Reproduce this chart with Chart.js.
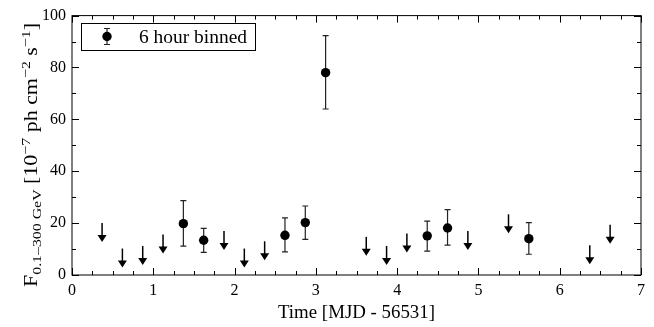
<!DOCTYPE html>
<html>
<head>
<meta charset="UTF-8">
<style>
  body { margin: 0; background: #fff; }
  canvas { display: block; }
</style>
</head>
<body>
<canvas id="myChart" width="654" height="327"></canvas>
<script src="https://cdn.jsdelivr.net/npm/chart.js"></script>
<script>
// detections (6 hour bins)
var det_time = [1.37, 1.62, 2.62, 2.87, 3.12, 4.37, 4.62, 5.62];
var det_flux = [19.8, 13.4, 15.3, 20.2, 78.0, 15.1, 18.1, 14.0];
var det_low  = [11.1, 8.7, 8.9, 13.7, 64.0, 9.2, 11.5, 8.0];
var det_high = [28.7, 18.0, 22.0, 26.6, 92.3, 20.8, 25.2, 20.2];

// upper limits
var ul_time = [0.37, 0.62, 0.87, 1.12, 1.87, 2.12, 2.37, 3.62, 3.87, 4.12, 4.87, 5.37, 6.37, 6.62];
var ul_flux = [20.0, 10.2, 11.2, 15.6, 17.0, 10.2, 13.0, 14.7, 11.2, 16.0, 17.0, 23.4, 11.5, 19.4];

var x_ticks = [0, 1, 2, 3, 4, 5, 6, 7];
var y_ticks = [0, 20, 40, 60, 80, 100];
var legend_label = "6 hour binned";
var x_title = "Time [MJD - 56531]";
// y title pieces: [text, kind]
var y_title = [["F", "n"], ["0.1\u2013300 GeV", "sub"], [" [10", "n"], ["\u22127", "sup"],
               [" ph cm", "n"], ["\u22122", "sup"], [" s", "n"], ["\u22121", "sup"], ["]", "n"]];

var FONT = "'Liberation Serif', 'DejaVu Serif', serif";

function pts(xs, ys) {
  var out = [];
  for (var i = 0; i < xs.length; i++) out.push({x: xs[i], y: ys[i]});
  return out;
}

function errorbar(ctx, x, y1, y2, cap) {
  ctx.beginPath();
  ctx.moveTo(x, y1); ctx.lineTo(x, y2);
  ctx.moveTo(x - cap, y1); ctx.lineTo(x + cap, y1);
  ctx.moveTo(x - cap, y2); ctx.lineTo(x + cap, y2);
  ctx.stroke();
}

// computer modern is wider than times, so stretch text to the wanted width
function stretchText(ctx, text, x, y, size, width) {
  ctx.save();
  ctx.font = size + "px " + FONT;
  var w = ctx.measureText(text).width;
  ctx.translate(x, y);
  ctx.scale(width / w, 1);
  ctx.textAlign = "left";
  ctx.fillText(text, 0, 0);
  ctx.restore();
}

var extras = {
  id: "extras",
  beforeDatasetsDraw: function(chart) {
    var ctx = chart.ctx, xs = chart.scales.x, ys = chart.scales.y;
    ctx.save();
    ctx.strokeStyle = "#222";
    ctx.lineWidth = 1.2;
    for (var i = 0; i < det_time.length; i++) {
      var px = xs.getPixelForValue(det_time[i]);
      errorbar(ctx, px, ys.getPixelForValue(det_high[i]), ys.getPixelForValue(det_low[i]), 3);
    }
    // upper limit arrows
    ctx.fillStyle = "#000";
    ctx.strokeStyle = "#000";
    ctx.lineWidth = 1.5;
    for (var j = 0; j < ul_time.length; j++) {
      var ax = xs.getPixelForValue(ul_time[j]);
      var ay = ys.getPixelForValue(ul_flux[j]);
      ctx.beginPath();
      ctx.moveTo(ax, ay); ctx.lineTo(ax, ay + 13);
      ctx.stroke();
      ctx.beginPath();
      ctx.moveTo(ax - 4.5, ay + 12);
      ctx.lineTo(ax + 4.5, ay + 12);
      ctx.lineTo(ax, ay + 19);
      ctx.closePath();
      ctx.fill();
    }
    ctx.restore();
  },
  afterDraw: function(chart) {
    var ctx = chart.ctx, a = chart.chartArea, xs = chart.scales.x, ys = chart.scales.y;
    ctx.save();
    ctx.strokeStyle = "#000";
    ctx.lineWidth = 1;
    ctx.strokeRect(a.left, a.top, a.right - a.left, a.bottom - a.top);
    ctx.beginPath();
    // x ticks, inward, bottom and top
    for (var v = 0; v <= 7.001; v += 0.25) {
      var px = Math.round(xs.getPixelForValue(v)) + 0.5;
      var len = (Math.abs(v - Math.round(v)) < 0.01) ? 7 : 4;
      ctx.moveTo(px, a.bottom); ctx.lineTo(px, a.bottom - len);
      ctx.moveTo(px, a.top); ctx.lineTo(px, a.top + len);
    }
    for (var w = 0; w <= 100; w += 10) {
      var py = Math.round(ys.getPixelForValue(w)) + 0.5;
      var l2 = (w % 20 === 0) ? 7 : 4;
      ctx.moveTo(a.left, py); ctx.lineTo(a.left + l2, py);
      ctx.moveTo(a.right, py); ctx.lineTo(a.right - l2, py);
    }
    ctx.stroke();

    // legend
    ctx.strokeRect(81.5, 23.5, 174, 27);
    ctx.strokeStyle = "#222";
    ctx.lineWidth = 1.2;
    errorbar(ctx, 107, 28.5, 44.5, 3);
    ctx.fillStyle = "#000";
    ctx.beginPath();
    ctx.arc(107, 36.5, 4.7, 0, Math.PI * 2);
    ctx.fill();
    ctx.textBaseline = "alphabetic";
    stretchText(ctx, legend_label, 139, 42.5, 18, 108);

    // x axis title
    ctx.font = "18px " + FONT;
    var tw = 157;
    stretchText(ctx, x_title, (a.left + a.right) / 2 - tw / 2, 318, 18, tw);

    // y axis title with sub/superscripts
    ctx.translate(37, 155);
    ctx.rotate(-Math.PI / 2);
    var total = 0, k, f;
    function fontOf(kind) { return (kind === "n" ? "18px " : "13px ") + FONT; }
    for (k = 0; k < y_title.length; k++) {
      ctx.font = fontOf(y_title[k][1]);
      total += ctx.measureText(y_title[k][0]).width;
    }
    var target = 264;
    ctx.scale(target / total, 1);
    var cx = -total / 2;
    for (k = 0; k < y_title.length; k++) {
      f = y_title[k];
      ctx.font = fontOf(f[1]);
      var dy = f[1] === "sub" ? 4 : (f[1] === "sup" ? -7.5 : 0);
      ctx.fillText(f[0], cx, dy);
      cx += ctx.measureText(f[0]).width;
    }
    ctx.restore();
  }
};

new Chart(document.getElementById("myChart"), {
  type: "scatter",
  data: {
    datasets: [{
      label: legend_label,
      data: pts(det_time, det_flux),
      pointRadius: 4.7,
      pointBackgroundColor: "#000",
      pointBorderColor: "#000",
      pointBorderWidth: 0
    }, {
      label: "upper limits",
      data: pts(ul_time, ul_flux),
      pointRadius: 0
    }]
  },
  options: {
    responsive: false,
    animation: false,
    layout: { padding: { top: 14, right: 13, left: 0, bottom: 0 } },
    plugins: { legend: { display: false }, tooltip: { enabled: false } },
    scales: {
      x: {
        type: "linear", min: 0, max: 7,
        afterBuildTicks: function(s) { s.ticks = x_ticks.map(function(v) { return {value: v}; }); },
        afterFit: function(s) { s.height = 52; },
        grid: { display: false, drawTicks: false },
        border: { display: false },
        ticks: { color: "#000", padding: 6, font: { family: FONT, size: 16 } }
      },
      y: {
        type: "linear", min: 0, max: 100,
        afterBuildTicks: function(s) { s.ticks = y_ticks.map(function(v) { return {value: v}; }); },
        afterFit: function(s) { s.width = 72; },
        grid: { display: false, drawTicks: false },
        border: { display: false },
        ticks: { color: "#000", padding: 6, font: { family: FONT, size: 16 } }
      }
    }
  },
  plugins: [extras]
});
</script>
</body>
</html>
